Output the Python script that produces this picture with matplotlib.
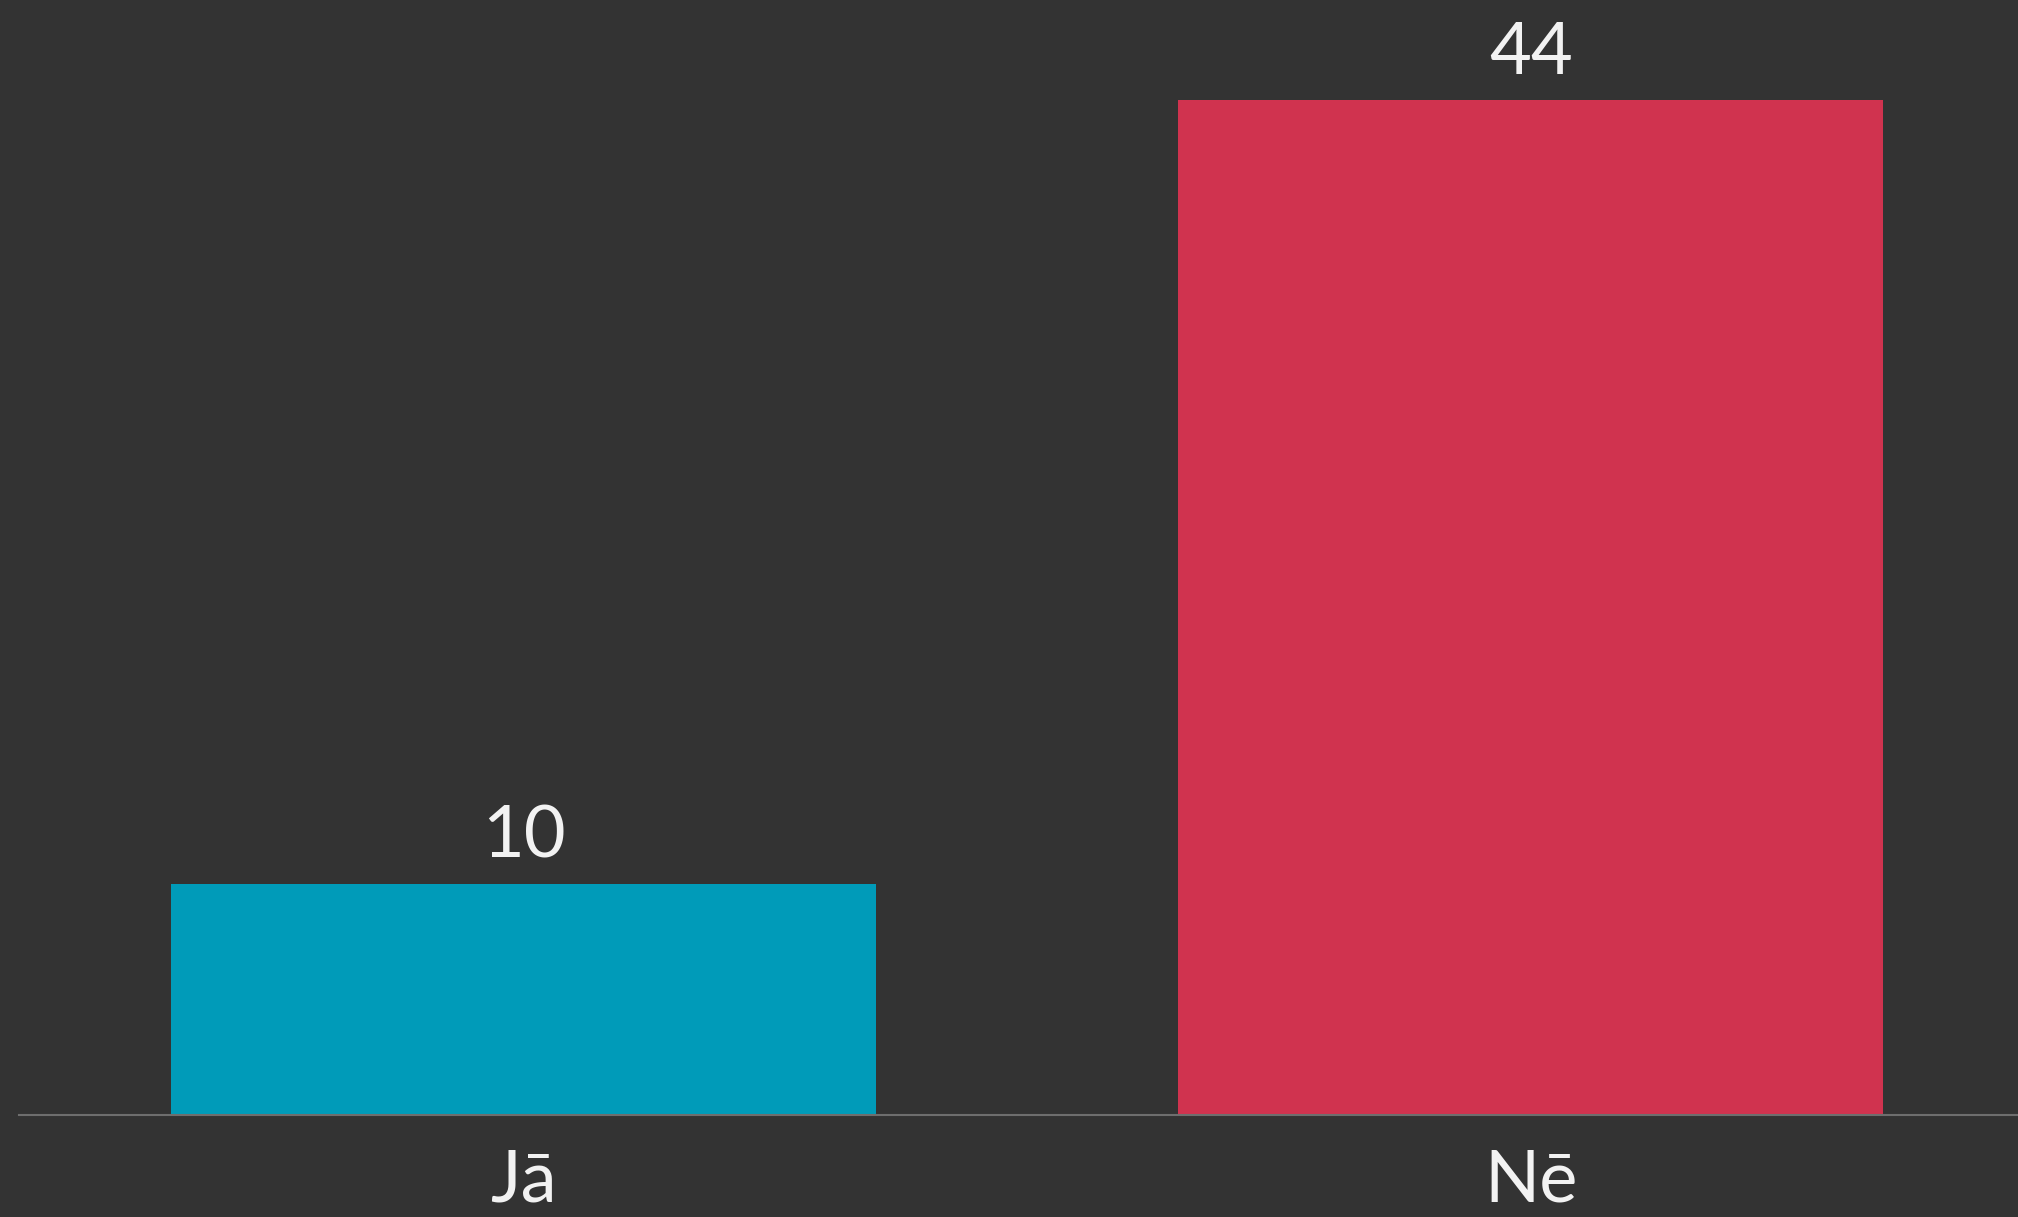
import matplotlib.pyplot as plt

# Dati
categories = ['Jā', 'Nē']
values = [10, 44]
colors = ['#009BB9', '#D0334F']

BG = '#333333'
plt.rcParams['font.family'] = ['Lato', 'DejaVu Sans']

fig = plt.figure(figsize=(20.18, 12.17), dpi=100, facecolor=BG)
ax = fig.add_axes([19 / 2018, 102 / 1217, 1 - 19 / 2018, 1115 / 1217])
ax.set_facecolor(BG)

x = range(len(categories))
bars = ax.bar(x, values, width=0.7, color=colors)

for b, v in zip(bars, values):
    ax.annotate(str(v), xy=(b.get_x() + b.get_width() / 2, v),
                xytext=(0, 19), textcoords='offset points',
                ha='center', va='baseline', color='#f2f2f2', fontsize=52)

ax.set_xlim(-0.501, 1.484)
ax.set_ylim(0, 48.33)

ax.set_xticks(list(x), categories, fontsize=52, color='#f2f2f2')
ax.tick_params(axis='x', length=0, pad=24)
ax.set_yticks([])
for s in ['top', 'left', 'right']:
    ax.spines[s].set_visible(False)
ax.spines['bottom'].set_color('#6e6e6e')
ax.spines['bottom'].set_linewidth(1.5)

fig.savefig('out.png', dpi=100, facecolor=BG)
